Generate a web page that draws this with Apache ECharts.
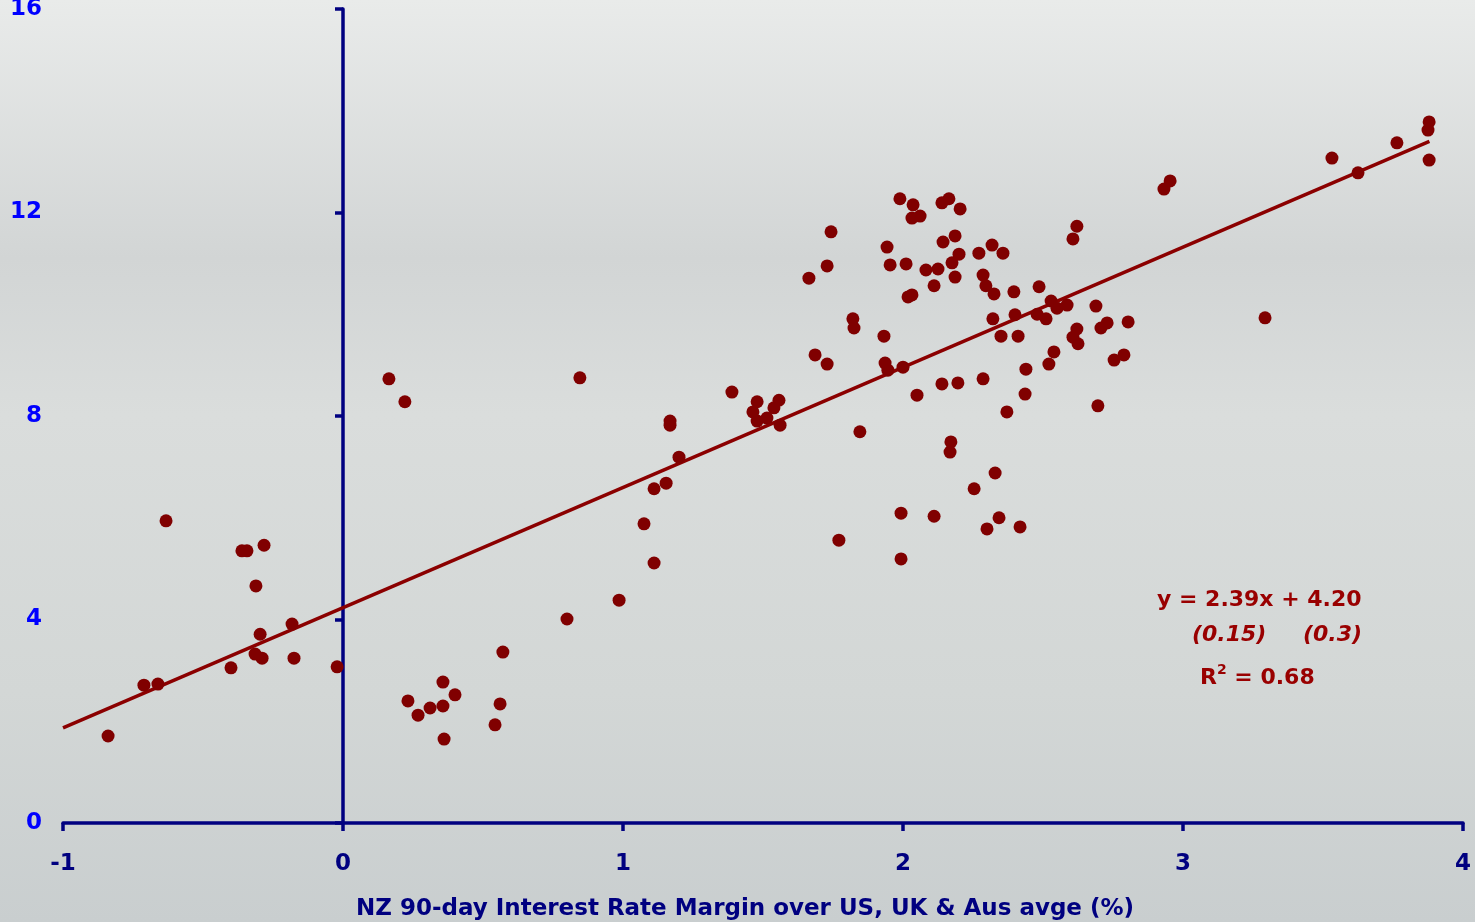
<!DOCTYPE html>
<html>
<head>
<meta charset="utf-8">
<script src="https://cdn.jsdelivr.net/npm/echarts@6/dist/echarts.min.js"></script>
<style>
  html, body { margin: 0; padding: 0; }
  #chart { width: 1475px; height: 922px; }
</style>
</head>
<body>
<div id="chart"></div>
<script>
// margin (x) vs value (y)
var marginX = [
  -0.839, -0.711, -0.661, -0.632, -0.400, -0.361, -0.343, -0.311, -0.282, -0.314,
  -0.289, -0.296, -0.182, -0.175, -0.021,
  0.164, 0.221, 0.232, 0.268, 0.311, 0.357, 0.357, 0.361, 0.400, 0.543,
  0.561, 0.571, 0.800, 0.846, 0.986, 1.075, 1.111, 1.111, 1.154, 1.200,
  1.168, 1.168, 1.389, 1.479, 1.464, 1.479, 1.514, 1.557, 1.539, 1.561,
  1.664, 1.686, 1.729, 1.729, 1.743, 1.771, 1.821, 1.825, 1.846, 1.932,
  1.936, 1.946, 1.943, 1.954, 1.989, 1.993, 1.993, 2.000, 2.011, 2.018,
  2.032, 2.036, 2.032, 2.061, 2.050, 2.082, 2.111, 2.111, 2.125, 2.139,
  2.164, 2.139, 2.143, 2.186, 2.171, 2.168, 2.175, 2.186, 2.196, 2.204,
  2.200, 2.271, 2.286, 2.286, 2.296, 2.254, 2.300, 2.318, 2.325, 2.321,
  2.329, 2.343, 2.357, 2.350, 2.371, 2.396, 2.400, 2.411, 2.418, 2.436,
  2.439, 2.479, 2.486, 2.511, 2.529, 2.521, 2.539, 2.550, 2.586, 2.607,
  2.621, 2.607, 2.621, 2.625, 2.689, 2.696, 2.707, 2.729, 2.754, 2.789,
  2.804, 2.932, 2.954, 3.293, 3.532, 3.625, 3.764, 3.879, 3.875, 3.879
];
var valueY = [
  1.71, 2.71, 2.73, 5.94, 3.05, 5.35, 5.35, 4.66, 5.46, 3.32,
  3.24, 3.71, 3.91, 3.24, 3.07,
  8.73, 8.28, 2.40, 2.12, 2.26, 2.77, 2.30, 1.65, 2.52, 1.93,
  2.34, 3.36, 4.01, 8.75, 4.38, 5.88, 5.11, 6.57, 6.68, 7.19,
  7.90, 7.82, 8.47, 8.28, 8.08, 7.90, 7.96, 8.31, 8.16, 7.82,
  10.71, 9.20, 9.02, 10.95, 11.62, 5.56, 9.91, 9.73, 7.69, 9.57,
  9.04, 8.90, 11.32, 10.97, 12.27, 6.09, 5.19, 8.96, 10.99, 10.34,
  10.38, 12.15, 11.89, 11.93, 8.41, 10.87, 10.56, 6.03, 10.89, 12.19,
  12.27, 8.63, 11.42, 11.54, 7.49, 7.29, 11.01, 10.73, 8.65, 12.07,
  11.18, 11.20, 10.77, 8.73, 10.56, 6.57, 5.78, 11.36, 10.40, 9.91,
  6.88, 6.00, 11.20, 9.57, 8.08, 10.44, 9.99, 9.57, 5.82, 8.43,
  8.92, 10.00, 10.54, 9.91, 10.26, 9.02, 9.26, 10.12, 10.18, 11.48,
  11.73, 9.55, 9.71, 9.42, 10.16, 8.20, 9.73, 9.83, 9.10, 9.20,
  9.85, 12.46, 12.62, 9.93, 13.07, 12.78, 13.37, 13.78, 13.62, 13.03
];
// fitted line end points
var fitX = [-1, 3.88];
var fitY = [1.87, 13.40];
var yTicks = [0, 4, 8, 12, 16];

var points = marginX.map(function(x, i){ return [x, valueY[i]]; });
var fitLine = fitX.map(function(x, i){ return [x, fitY[i]]; });

var navy = '#000080';
var red = '#800000';
var eqRed = '#990000';
var font = '"DejaVu Sans", sans-serif';

var chart = echarts.init(document.getElementById('chart'));
var option = {
  animation: false,
  backgroundColor: {
    type: 'linear', x: 0, y: 0, x2: 0, y2: 1,
    colorStops: [
      {offset: 0, color: '#e9ebea'},
      {offset: 0.28, color: '#d2d5d5'},
      {offset: 0.45, color: '#dadddc'},
      {offset: 0.75, color: '#d3d7d6'},
      {offset: 1, color: '#c9cecf'}
    ]
  },
  grid: { left: 63, right: 12, top: 9, bottom: 99, outerBoundsMode: 'none' },
  xAxis: {
    type: 'value', min: -1, max: 4, interval: 1,
    name: 'NZ 90-day Interest Rate Margin over US, UK & Aus avge (%)',
    nameLocation: 'middle', nameGap: 75,
    nameTextStyle: { color: navy, fontSize: 23, fontWeight: 'bold', fontFamily: font, padding: [0, 36, 0, 0] },
    axisLine: { onZero: false, lineStyle: { color: navy, width: 3.5 } },
    axisTick: { length: 8, lineStyle: { color: navy, width: 3.5 } },
    axisLabel: { color: navy, fontSize: 23, fontWeight: 'bold', fontFamily: font, margin: 30 },
    splitLine: { show: false }
  },
  yAxis: [{
    type: 'value', min: 0, max: 16, interval: 4,
    axisLine: { show: true, onZero: true, lineStyle: { color: navy, width: 3.5 } },
    axisTick: { show: true, length: 8, lineStyle: { color: navy, width: 3.5 } },
    axisLabel: { show: false },
    splitLine: { show: false }
  }, {
    type: 'value', min: 0, max: 16, interval: 4, position: 'left',
    axisLine: { show: false },
    axisTick: { show: false },
    axisLabel: {
      color: '#0000ff', fontSize: 23, fontWeight: 'bold', fontFamily: font, margin: 21,
      formatter: function(v){ return yTicks.indexOf(v) >= 0 ? String(v) : ''; }
    },
    splitLine: { show: false }
  }],
  series: [{
    type: 'line',
    data: fitLine,
    symbol: 'none',
    lineStyle: { color: '#8b0000', width: 3.5 },
    z: 3
  }, {
    type: 'scatter',
    data: points,
    symbolSize: 13,
    itemStyle: { color: red, opacity: 1 },
    z: 4
  }],
  graphic: [{
    type: 'text', left: 1157, top: 589,
    style: { text: 'y = 2.39x + 4.20', fill: eqRed, font: 'bold 22px ' + font }
  }, {
    type: 'text', left: 1192, top: 624,
    style: { text: '(0.15)', fill: eqRed, font: 'italic bold 22px ' + font }
  }, {
    type: 'text', left: 1303, top: 624,
    style: { text: '(0.3)', fill: eqRed, font: 'italic bold 22px ' + font }
  }, {
    type: 'text', left: 1200, top: 663,
    style: {
      text: '{a|R}{s|2}{a| = 0.68}',
      rich: {
        a: { fill: eqRed, font: 'bold 22px ' + font, verticalAlign: 'bottom' },
        s: { fill: eqRed, font: 'bold 14px ' + font, verticalAlign: 'top', padding: [0, 0, 12, 0] }
      }
    }
  }]
};
chart.setOption(option);
</script>
</body>
</html>
